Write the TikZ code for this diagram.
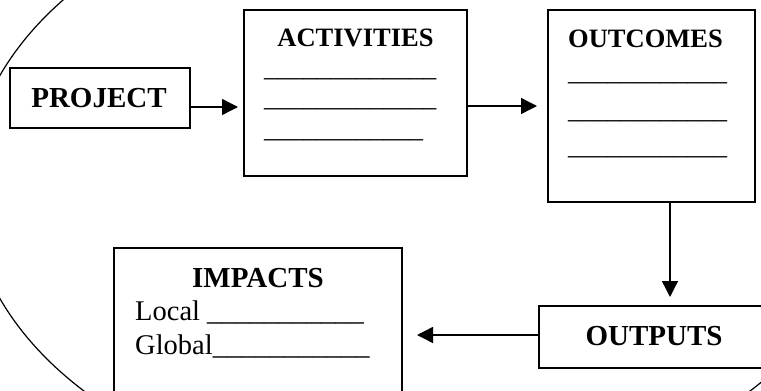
\documentclass[tikz,border=0pt]{standalone}
\usepackage{fontspec}
\setmainfont{Liberation Serif}
\usetikzlibrary{arrows.meta,calc}
\begin{document}
\begin{tikzpicture}[x=1pt,y=-1pt,
  box/.style={draw,line width=1.6pt,inner sep=0pt,outer sep=0pt,anchor=north west},
  conn/.style={line width=1.4pt,-{Triangle[length=16pt,width=16pt]}},
  ttl/.style={font=\fontsize{26.5}{30}\selectfont\bfseries,inner sep=0pt,anchor=base},
  big/.style={font=\fontsize{29}{33}\selectfont\bfseries,inner sep=0pt,anchor=base},
  blank/.style={font=\fontsize{26.5}{30}\selectfont,inner sep=0pt,anchor=base west},
  txt/.style={font=\fontsize{28.5}{32}\selectfont,inner sep=0pt,anchor=base west}]
\useasboundingbox (0,0) rectangle (761,391);
\begin{scope}
\clip (0,0) rectangle (761,391);
\draw[line width=1.2pt] (417,187) ellipse [x radius=448pt, y radius=305pt];
% boxes
\node[box, minimum width=180pt, minimum height=60pt] (project) at (10,68) {};
\node[box, minimum width=223pt, minimum height=166pt] (activities) at (244,10) {};
\node[box, minimum width=207pt, minimum height=192pt] (outcomes) at (548,10) {};
\node[box, minimum width=240pt, minimum height=62pt] (outputs) at (539,306) {};
\node[box, minimum width=288pt, minimum height=180pt] (impacts) at (114,248) {};
% texts
\node[big] (projectlbl) at (99,107) {PROJECT};
\node[ttl] (actlbl) at (355.5,46) {ACTIVITIES};
\node[blank] (act1) at (264,76.3) {\_\_\_\_\_\_\_\_\_\_\_\_\_};
\node[blank] (act2) at (264,106.3) {\_\_\_\_\_\_\_\_\_\_\_\_\_};
\node[blank] (act3) at (264,137.3) {\_\_\_\_\_\_\_\_\_\_\_\_};
\node[ttl] (outclbl) at (645.5,47) {OUTCOMES};
\node[blank] (out1) at (568,80.3) {\_\_\_\_\_\_\_\_\_\_\_\_};
\node[blank] (out2) at (568,118.3) {\_\_\_\_\_\_\_\_\_\_\_\_};
\node[blank] (out3) at (568,154.3) {\_\_\_\_\_\_\_\_\_\_\_\_};
\node[big] (outplbl) at (654,345) {OUTPUTS};
\node[big] (implbl) at (258,287) {IMPACTS};
\node[txt] (local) at (135,320) {Local \_\_\_\_\_\_\_\_\_\_\_};
\node[txt] (global) at (135,354) {Global\_\_\_\_\_\_\_\_\_\_\_};
% connectors
\coordinate (r1) at (0,107);
\coordinate (r2) at (0,106);
\coordinate (c1) at (670,0);
\coordinate (r3) at (0,335);
\draw[conn, shorten >=6pt] (project.east |- r1) -- (activities.west |- r1);
\draw[conn, shorten >=11pt] (activities.east |- r2) -- (outcomes.west |- r2);
\draw[conn, shorten >=9pt] (outcomes.south -| c1) -- (outputs.north -| c1);
\draw[conn, shorten >=15pt] (outputs.west |- r3) -- (impacts.east |- r3);
\end{scope}
\end{tikzpicture}
\end{document}
